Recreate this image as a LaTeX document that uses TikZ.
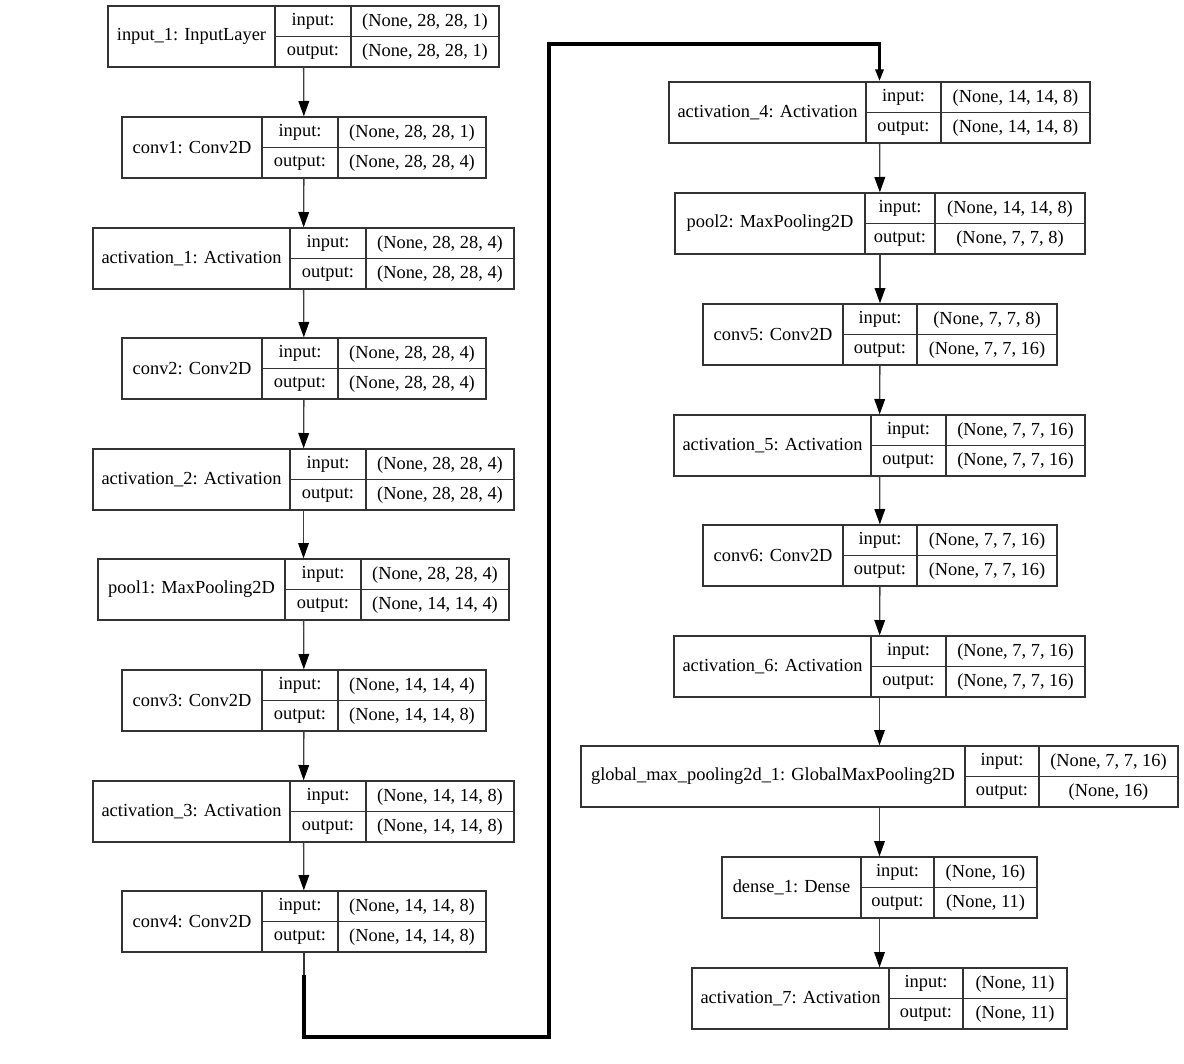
\documentclass[tikz,border=0pt]{standalone}
\usepackage{fontspec}
\setmainfont{Liberation Serif}
\usetikzlibrary{arrows.meta}

% one keras layer: name, top, left, first split, second split, right, label, input, output
\newcommand{\layer}[9]{%
  \node[layerbox,minimum width={(#6-#3)*0.75pt}] (#1) at ({(#3+#6)/2},{#2+30.5}) {};
  \draw[cellline] (#4,#2) -- (#4,#2+61) (#5,#2) -- (#5,#2+61) (#4,#2+30.5) -- (#6,#2+30.5);
  \node[celltext] (#1-name) at ({(#3+#4)/2},{#2+30.5}) {#7};
  \node[celltext] (#1-inkey) at ({(#4+#5)/2},{#2+15.75}) {input:};
  \node[celltext] (#1-outkey) at ({(#4+#5)/2},{#2+46.25}) {output:};
  \node[celltext] (#1-inval) at ({(#5+#6)/2},{#2+15.75}) {#8};
  \node[celltext] (#1-outval) at ({(#5+#6)/2},{#2+46.25}) {#9};
}

\begin{document}
\begin{tikzpicture}[
      x=0.75pt,y=-0.75pt,
      layerbox/.style={draw=black!80,line width=1pt,minimum height=45.75pt,inner sep=0pt},
      cellline/.style={black!80,line width=1pt},
      celltext/.style={inner sep=0pt,font=\fontsize{13.8}{16}\selectfont},
      link/.style={-{Triangle[length=11.5pt,width=8pt,color=black]},black!75,line width=1pt},
      longlink/.style={-{Triangle[length=9pt,width=6pt,color=black]},black,line width=2.6pt}
    ]
      \useasboundingbox (0,0) rectangle (1184,1063);
      % left column
      \layer{input1}{6}{108}{275}{351}{499}{input\_1: InputLayer}{(None, 28, 28, 1)}{(None, 28, 28, 1)}
      \layer{conv1}{117}{122}{262}{338}{486}{conv1: Conv2D}{(None, 28, 28, 1)}{(None, 28, 28, 4)}
      \layer{act1}{228}{93}{290}{366}{514}{activation\_1: Activation}{(None, 28, 28, 4)}{(None, 28, 28, 4)}
      \layer{conv2}{338}{122}{262}{338}{486}{conv2: Conv2D}{(None, 28, 28, 4)}{(None, 28, 28, 4)}
      \layer{act2}{449}{93}{290}{366}{514}{activation\_2: Activation}{(None, 28, 28, 4)}{(None, 28, 28, 4)}
      \layer{pool1}{559}{98}{285}{361}{509}{pool1: MaxPooling2D}{(None, 28, 28, 4)}{(None, 14, 14, 4)}
      \layer{conv3}{670}{122}{262}{338}{486}{conv3: Conv2D}{(None, 14, 14, 4)}{(None, 14, 14, 8)}
      \layer{act3}{781}{93}{290}{366}{514}{activation\_3: Activation}{(None, 14, 14, 8)}{(None, 14, 14, 8)}
      \layer{conv4}{891}{122}{262}{338}{486}{conv4: Conv2D}{(None, 14, 14, 8)}{(None, 14, 14, 8)}
      % right column
      \layer{act4}{82}{669}{866}{941}{1090}{activation\_4: Activation}{(None, 14, 14, 8)}{(None, 14, 14, 8)}
      \layer{pool2}{193}{675}{865}{935}{1085}{pool2: MaxPooling2D}{(None, 14, 14, 8)}{(None, 7, 7, 8)}
      \layer{conv5}{304}{703}{843}{917}{1057}{conv5: Conv2D}{(None, 7, 7, 8)}{(None, 7, 7, 16)}
      \layer{act5}{415}{674}{871}{946}{1085}{activation\_5: Activation}{(None, 7, 7, 16)}{(None, 7, 7, 16)}
      \layer{conv6}{525}{703}{843}{917}{1057}{conv6: Conv2D}{(None, 7, 7, 16)}{(None, 7, 7, 16)}
      \layer{act6}{636}{674}{871}{946}{1085}{activation\_6: Activation}{(None, 7, 7, 16)}{(None, 7, 7, 16)}
      \layer{gmp}{746}{581}{965}{1039}{1178}{global\_max\_pooling2d\_1: GlobalMaxPooling2D}{(None, 7, 7, 16)}{(None, 16)}
      \layer{dense1}{857}{722}{861}{934}{1037}{dense\_1: Dense}{(None, 16)}{(None, 11)}
      \layer{act7}{968}{692}{889}{963}{1067}{activation\_7: Activation}{(None, 11)}{(None, 11)}
      % connectors
      \foreach \a/\b in {input1/conv1,conv1/act1,act1/conv2,conv2/act2,act2/pool1,pool1/conv3,conv3/act3,act3/conv4,
                         act4/pool2,pool2/conv5,conv5/act5,act5/conv6,conv6/act6,act6/gmp,gmp/dense1,dense1/act7}
        \draw[link] (\a) -- (\b);
      \coordinate (thick) at (304,975);
      \coordinate (low) at (549,1037);
      \coordinate (high) at (549,44);
      \draw[cellline] (conv4.south) -- (thick);
      \draw[longlink] (thick) |- (low) -- (high) -| (act4.north);
    \end{tikzpicture}
\end{document}
